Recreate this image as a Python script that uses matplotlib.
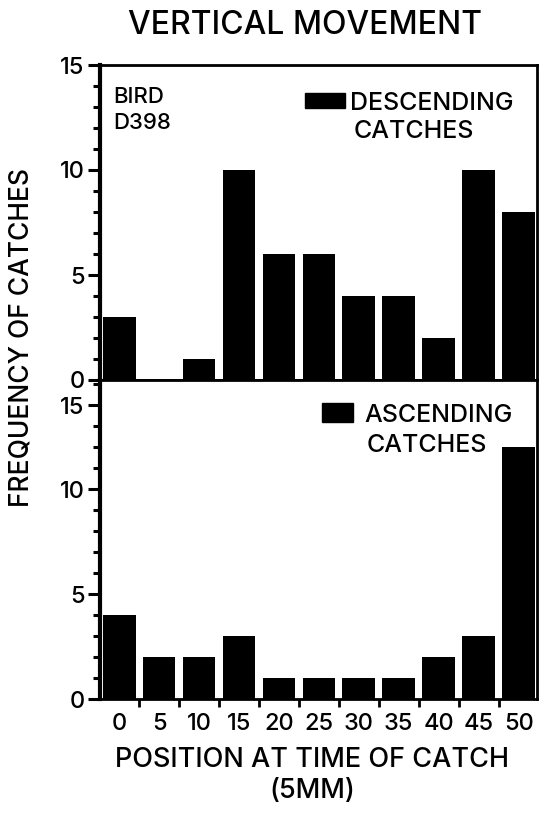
import numpy as np
import matplotlib
matplotlib.use('Agg')
import matplotlib.pyplot as plt
from matplotlib.patches import Rectangle
from matplotlib.ticker import MultipleLocator, FixedLocator

# data
positions = [0, 5, 10, 15, 20, 25, 30, 35, 40, 45, 50]
descending = [3, 0, 1, 10, 6, 6, 4, 4, 2, 10, 8]
ascending = [4, 2, 2, 3, 1, 1, 1, 1, 2, 3, 12]
pos_labels = ['0', '5', '10', '15', '20', '25', '30', '35', '40', '45', '50']

plt.rcParams['font.family'] = ['Inter', 'DejaVu Sans']
plt.rcParams['font.weight'] = 'medium'
plt.rcParams['axes.linewidth'] = 2.0

fig = plt.figure(figsize=(5.48, 8.18), dpi=100)
W, H = 548.0, 818.0
left, right = 100 / W, 537 / W
ax_up = fig.add_axes([left, (H - 380) / H, right - left, 315 / H])
ax_lo = fig.add_axes([left, (H - 699) / H, right - left, 319 / H])

gaps = [p + 2.5 for p in positions[:-1]]

for ax, vals in ((ax_up, descending), (ax_lo, ascending)):
    ax.bar(positions, vals, width=4.1, color='black', edgecolor='none')
    ax.set_xlim(-2.4, 52.3)
    ax.yaxis.set_minor_locator(MultipleLocator(1))
    ax.tick_params(axis='y', which='major', length=9, width=2.2,
                   labelsize=17, pad=2)
    ax.tick_params(axis='y', which='minor', length=5, width=2.2)
    ax.tick_params(axis='x', which='both', length=0)
    for s in ax.spines.values():
        s.set_linewidth(2.0)
    ax.spines['left'].set_linewidth(3.0)

# upper panel
ax_up.set_ylim(0, 15)
ax_up.set_yticks([0, 5, 10, 15])
ax_up.set_xticks([])
ax_up.text(0.03, 0.93, 'BIRD\nD398', transform=ax_up.transAxes,
           fontsize=16, va='top', ha='left', linespacing=1.4)
ax_up.add_patch(Rectangle((0.469, 0.863), 0.092, 0.048, color='black',
                          transform=ax_up.transAxes, clip_on=False))
ax_up.text(0.573, 0.857, 'DESCENDING', transform=ax_up.transAxes,
           fontsize=18, va='baseline', ha='left')
ax_up.text(0.580, 0.768, 'CATCHES', transform=ax_up.transAxes,
           fontsize=18, va='baseline', ha='left')

# lower panel (top label "15" sits one step low in the original)
ax_lo.set_ylim(0, 15.2)
ax_lo.set_yticks([0, 5, 10, 14])
ax_lo.set_yticklabels(['0', '5', '10', '15'])
ax_lo.xaxis.set_major_locator(FixedLocator(gaps))
ax_lo.xaxis.set_major_formatter(plt.NullFormatter())
ax_lo.tick_params(axis='x', which='major', length=6, width=2.0, direction='out')
ax_lo.set_xticks(positions, minor=True)
ax_lo.set_xticklabels(pos_labels, minor=True)
ax_lo.tick_params(axis='x', which='minor', length=0, labelsize=17, pad=10)

ax_lo.add_patch(Rectangle((0.508, 0.868), 0.071, 0.060, color='black',
                          transform=ax_lo.transAxes, clip_on=False))
ax_lo.text(0.606, 0.868, 'ASCENDING', transform=ax_lo.transAxes,
           fontsize=18, va='baseline', ha='left')
ax_lo.text(0.611, 0.774, 'CATCHES', transform=ax_lo.transAxes,
           fontsize=18, va='baseline', ha='left')

fig.text(305 / W, 1 - 10 / H, 'VERTICAL MOVEMENT', fontsize=23,
         ha='center', va='top')
fig.text(22 / W, 1 - 338 / H, 'FREQUENCY OF CATCHES', fontsize=19,
         rotation=90, ha='center', va='center')
fig.text(312 / W, 1 - 747 / H, 'POSITION AT TIME OF CATCH\n(5MM)',
         fontsize=19.5, ha='center', va='top', linespacing=1.25)

fig.savefig('out.png', dpi=100)
